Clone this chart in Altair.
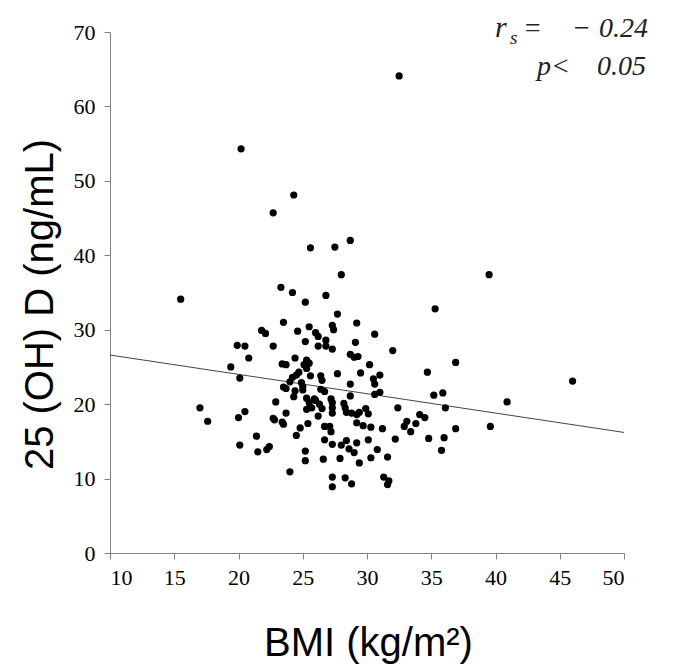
import altair as alt
import pandas as pd

bmi = [32.5, 20.2, 24.3, 22.7, 28.7, 25.6, 27.5, 28.0, 39.5, 15.5, 23.3, 24.2, 25.2, 26.8, 35.3,
       27.7, 23.5, 29.2, 27.3, 27.4, 25.5, 21.8, 22.1, 24.6, 30.6, 26.0, 26.2, 25.2, 29.1, 26.8,
       26.8, 26.2, 27.3, 19.9, 20.5, 22.7, 32.0, 28.7, 29.0, 29.3, 20.8, 24.4, 25.3, 25.5, 36.9,
       23.4, 23.7, 25.1, 25.3, 30.2, 19.4, 24.7, 24.5, 27.7, 29.5, 34.7, 25.6, 26.4, 26.5, 31.0,
       24.2, 24.0, 20.1, 30.5, 30.6, 24.9, 25.0, 25.0, 46.0, 28.7, 23.5, 23.7, 24.4, 24.3, 26.4,
       26.7, 31.0, 30.6, 35.9, 35.2, 28.7, 25.3, 25.9, 25.5, 27.2, 27.3, 40.9, 22.9, 26.0, 26.3,
       26.5, 28.2, 28.3, 28.4, 17.0, 32.4, 36.1, 25.3, 25.7, 27.3, 27.3, 29.9, 30.1, 20.5, 29.4,
       28.8, 29.2, 23.7, 26.2, 34.1, 34.5, 20.0, 17.6, 22.8, 22.7, 33.1, 32.9, 33.8, 23.4, 23.5,
       29.2, 29.7, 30.3, 25.4, 26.7, 27.1, 27.2, 24.8, 39.6, 31.2, 36.9, 24.5, 33.4, 21.4, 30.1,
       34.8, 36.0, 32.2, 26.7, 28.4, 27.3, 28.0, 29.2, 20.1, 22.4, 22.2, 21.5, 25.2, 28.6, 29.0,
       30.8, 35.8, 31.6, 30.3, 27.9, 26.6, 25.2, 29.4, 24.0, 27.3, 28.3, 31.3, 31.7, 27.3, 28.8,
       31.6]
vitd = [64.1, 54.3, 48.1, 45.7, 42.0, 41.0, 41.1, 37.4, 37.4, 34.1, 35.7, 35.0, 33.7, 34.6, 32.8,
        32.1, 31.0, 30.9, 30.6, 30.0, 30.4, 29.9, 29.5, 29.8, 29.4, 29.6, 29.1, 28.4, 28.3, 28.6,
        27.8, 27.8, 27.4, 27.9, 27.8, 27.8, 27.2, 26.7, 26.3, 26.4, 26.2, 26.2, 25.9, 25.5, 25.6,
        25.4, 25.3, 25.3, 24.8, 25.3, 25.0, 24.3, 23.9, 24.1, 24.2, 24.3, 23.8, 23.8, 23.2, 23.9,
        23.6, 23.0, 23.5, 23.4, 22.7, 22.9, 22.4, 21.9, 23.1, 22.7, 22.3, 22.1, 21.8, 21.0, 22.0,
        21.7, 21.6, 21.3, 21.5, 21.2, 21.1, 20.8, 20.7, 20.2, 20.7, 20.2, 20.3, 20.3, 20.5, 20.0,
        19.4, 20.1, 19.5, 18.9, 19.5, 19.5, 19.5, 19.3, 19.5, 19.5, 18.8, 19.4, 18.7, 19.0, 18.9,
        18.8, 18.6, 18.8, 18.4, 18.6, 18.2, 18.2, 17.7, 17.9, 18.1, 17.7, 17.0, 17.4, 17.6, 17.3,
        17.5, 17.1, 16.9, 17.4, 17.0, 17.0, 16.3, 16.8, 17.0, 16.7, 16.7, 15.8, 16.3, 15.7, 15.2,
        15.4, 15.5, 15.3, 15.2, 15.1, 14.6, 14.5, 14.8, 14.5, 14.3, 13.9, 13.6, 13.7, 14.0, 13.5,
        13.9, 13.8, 12.9, 12.8, 12.7, 12.6, 12.4, 12.1, 10.9, 10.2, 10.1, 10.2, 9.7, 8.9, 9.3,
        9.2]

fit_x = [10, 50]
fit_y = [26.6, 16.2]

x_ticks = [10, 15, 20, 25, 30, 35, 40, 45, 50]
y_ticks = [0, 10, 20, 30, 40, 50, 60, 70]

df = pd.DataFrame({"bmi": bmi, "vitd": vitd})
fit = pd.DataFrame({"bmi": fit_x, "vitd": fit_y})

xscale = alt.Scale(domain=[10, 50], nice=False, zero=False)
yscale = alt.Scale(domain=[0, 70], nice=False)

SERIF = "'Liberation Serif', 'Times New Roman', serif"

common = dict(labelFont=SERIF, labelFontSize=22, labelColor="black",
              domainColor="#808080", tickColor="#808080", tickSize=6, grid=False,
              titleFont="Liberation Sans", titleFontSize=40, titleFontWeight="normal",
              titleColor="black")

xaxis = alt.Axis(values=x_ticks, title="BMI (kg/m²)", titleX=258, titleY=102,
                 titleAlign="center", titleBaseline="alphabetic", labelPadding=8, **common)
yaxis = alt.Axis(values=y_ticks, title="25 (OH) D (ng/mL)", titleX=-70, titleY=272,
                 titleAlign="center", titleBaseline="middle", titleAngle=-90,
                 labelPadding=9, **common)

pts = alt.Chart(df).mark_circle(size=52, color="black", opacity=1).encode(
    x=alt.X("bmi:Q", scale=xscale, axis=xaxis),
    y=alt.Y("vitd:Q", scale=yscale, axis=yaxis),
)

line = alt.Chart(fit).mark_line(color="#444444", strokeWidth=1).encode(
    x=alt.X("bmi:Q", scale=xscale),
    y=alt.Y("vitd:Q", scale=yscale),
)

def label(txt, x, y, size, align="left"):
    return alt.Chart(pd.DataFrame({"t": [txt]})).mark_text(
        font=SERIF, fontStyle="italic", fontSize=size, color="#222222",
        align=align, baseline="alphabetic"
    ).encode(text="t:N", x=alt.value(x), y=alt.value(y))

ann = (label("r", 385, 5, 30) + label("s", 400, 12, 19) + label("=", 413, 5, 28)
       + label("−", 462, 5, 28) + label("0.24", 538, 5, 28, "right")
       + label("p<", 427, 43, 28) + label("0.05", 536, 43, 28, "right"))

chart = alt.layer(line, pts, ann).properties(
    width=514, height=521,
    autosize=alt.AutoSizeParams(type="none"),
    padding={"left": 102, "top": 24, "right": 40, "bottom": 114},
).configure_view(stroke=None)

chart.save("out.html", embed_options={"renderer": "svg", "actions": False})
